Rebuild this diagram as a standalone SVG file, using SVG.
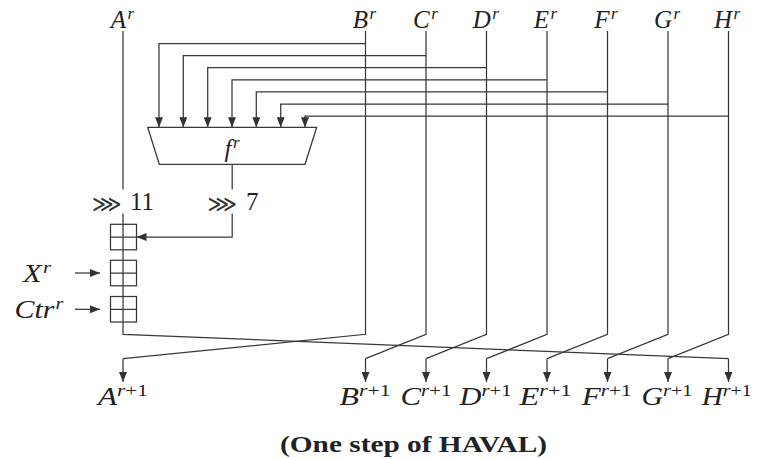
<svg xmlns="http://www.w3.org/2000/svg" width="757" height="459" viewBox="0 0 757 459">
  <defs>
    <marker id="arrow" viewBox="0 0 10 8" refX="10" refY="4" markerWidth="10" markerHeight="8" markerUnits="userSpaceOnUse" orient="auto">
      <path d="M0,0 L10,4 L0,8 Z" fill="#333"/>
    </marker>
    <style>
      .ln { fill: none; stroke: #383838; stroke-width: 1.25; }
      .ar { fill: none; stroke: #383838; stroke-width: 1.25; marker-end: url(#arrow); }
      .box { fill: #fff; stroke: #383838; stroke-width: 1.25; }
      .var { font-family: "Liberation Serif", serif; font-style: italic; font-size: 25px; fill: #222; }
      .sup { font-size: 17px; }
      .up { font-style: normal; }
      .num { font-family: "Liberation Serif", serif; font-size: 25px; fill: #222; }
      .rot { font-family: "DejaVu Sans", sans-serif; font-size: 24px; fill: #333; }
      .cap { font-family: "Liberation Serif", serif; font-weight: bold; font-size: 24px; fill: #222; }
    </style>
  </defs>

  <rect width="757" height="459" fill="#fff"/>

  <!-- connectors -->
  <g id="connectors">
    <!-- register A path through the shifts and the three adders -->
    <path class="ln" d="M123,31 V189.5"/>
    <path class="ln" d="M123,213.5 V334.3 L728.5,358.7"/>
    <path class="ar" d="M728.5,358.7 V382"/>

    <!-- registers B..H: inputs to f and rotation to the next step -->
    <path class="ln" d="M365.5,31 V334.3 L123,358.7"/>
    <path class="ar" d="M123,358.7 V382"/>
    <path class="ln" d="M426,31 V334.3 L365.5,358.7"/>
    <path class="ar" d="M365.5,358.7 V382"/>
    <path class="ln" d="M486.5,31 V334.3 L426,358.7"/>
    <path class="ar" d="M426,358.7 V382"/>
    <path class="ln" d="M547,31 V334.3 L486.5,358.7"/>
    <path class="ar" d="M486.5,358.7 V382"/>
    <path class="ln" d="M607.5,31 V334.3 L547,358.7"/>
    <path class="ar" d="M547,358.7 V382"/>
    <path class="ln" d="M668,31 V334.3 L607.5,358.7"/>
    <path class="ar" d="M607.5,358.7 V382"/>
    <path class="ln" d="M728.5,31 V334.3 L668,358.7"/>
    <path class="ar" d="M668,358.7 V382"/>

    <!-- taps feeding the boolean function -->
    <path class="ar" d="M365.5,43.5 H159 V127.3"/>
    <path class="ar" d="M426,55.6 H183.3 V127.3"/>
    <path class="ar" d="M486.5,67.7 H207.7 V127.3"/>
    <path class="ar" d="M547,79.8 H232 V127.3"/>
    <path class="ar" d="M607.5,91.9 H256.3 V127.3"/>
    <path class="ar" d="M668,104 H280.7 V127.3"/>
    <path class="ar" d="M728.5,116 H305 V127.3"/>

    <!-- output of f, rotated, into the first adder -->
    <path class="ln" d="M232.2,164.3 V189.5"/>
    <path class="ar" d="M232.2,213.5 V237 H136.5"/>

    <!-- message word and constant -->
    <path class="ar" d="M75,273 H100"/>
    <path class="ar" d="M75,309.3 H100"/>
  </g>

  <!-- boolean function f -->
  <g id="f-box">
    <path class="box" d="M147.7,127.3 H316.7 L305,164.3 H159.3 Z"/>
    <text class="var" x="232" y="157" text-anchor="middle">f<tspan class="sup" dx="1.5" dy="-9">r</tspan></text>
  </g>

  <!-- rotations -->
  <g id="rot11">
    <text class="rot" x="92" y="211.5" textLength="29.5" lengthAdjust="spacingAndGlyphs">⋙</text>
    <text class="num" x="130" y="210">11</text>
  </g>
  <g id="rot7">
    <text class="rot" x="207.5" y="211.5" textLength="29.5" lengthAdjust="spacingAndGlyphs">⋙</text>
    <text class="num" x="246" y="210">7</text>
  </g>

  <!-- modular adders -->
  <g id="add1">
    <rect class="box" x="110.5" y="224.3" width="26" height="25.5"/>
    <path class="ln" d="M110.5,237 H136.5 M123,224.3 V249.8"/>
  </g>
  <g id="add2">
    <rect class="box" x="110.5" y="260.3" width="26" height="25.5"/>
    <path class="ln" d="M110.5,273 H136.5 M123,260.3 V285.8"/>
  </g>
  <g id="add3">
    <rect class="box" x="110.5" y="296.5" width="26" height="25.5"/>
    <path class="ln" d="M110.5,309.3 H136.5 M123,296.5 V322"/>
  </g>

  <!-- side inputs -->
  <g id="in-x">
    <text class="var" x="37" y="281.5" text-anchor="middle" textLength="28" lengthAdjust="spacingAndGlyphs">X<tspan class="sup" dx="1" dy="-9">r</tspan></text>
  </g>
  <g id="in-ctr">
    <text class="var" x="39" y="318" text-anchor="middle" textLength="49" lengthAdjust="spacingAndGlyphs">Ctr<tspan class="sup" dx="1" dy="-9">r</tspan></text>
  </g>

  <!-- inputs of step r -->
  <g id="top-labels">
    <text class="var" x="122.5" y="28" text-anchor="middle">A<tspan class="sup" dx="1.5" dy="-9">r</tspan></text>
    <text class="var" x="364.5" y="28" text-anchor="middle">B<tspan class="sup" dx="1.5" dy="-9">r</tspan></text>
    <text class="var" x="425.5" y="28" text-anchor="middle">C<tspan class="sup" dx="1.5" dy="-9">r</tspan></text>
    <text class="var" x="485.8" y="28" text-anchor="middle">D<tspan class="sup" dx="1.5" dy="-9">r</tspan></text>
    <text class="var" x="545.5" y="28" text-anchor="middle">E<tspan class="sup" dx="1.5" dy="-9">r</tspan></text>
    <text class="var" x="606" y="28" text-anchor="middle">F<tspan class="sup" dx="1.5" dy="-9">r</tspan></text>
    <text class="var" x="667" y="28" text-anchor="middle">G<tspan class="sup" dx="1.5" dy="-9">r</tspan></text>
    <text class="var" x="727" y="28" text-anchor="middle">H<tspan class="sup" dx="1.5" dy="-9">r</tspan></text>
  </g>

  <!-- outputs of step r -->
  <g id="bottom-labels">
    <text class="var" x="123" y="405" text-anchor="middle" textLength="50" lengthAdjust="spacingAndGlyphs">A<tspan class="sup" dy="-9">r</tspan><tspan class="sup up">+1</tspan></text>
    <text class="var" x="365" y="405" text-anchor="middle" textLength="51" lengthAdjust="spacingAndGlyphs">B<tspan class="sup" dy="-9">r</tspan><tspan class="sup up">+1</tspan></text>
    <text class="var" x="426" y="405" text-anchor="middle" textLength="51" lengthAdjust="spacingAndGlyphs">C<tspan class="sup" dy="-9">r</tspan><tspan class="sup up">+1</tspan></text>
    <text class="var" x="485.5" y="405" text-anchor="middle" textLength="52" lengthAdjust="spacingAndGlyphs">D<tspan class="sup" dy="-9">r</tspan><tspan class="sup up">+1</tspan></text>
    <text class="var" x="545.5" y="405" text-anchor="middle" textLength="52" lengthAdjust="spacingAndGlyphs">E<tspan class="sup" dy="-9">r</tspan><tspan class="sup up">+1</tspan></text>
    <text class="var" x="606.7" y="405" text-anchor="middle" textLength="50" lengthAdjust="spacingAndGlyphs">F<tspan class="sup" dy="-9">r</tspan><tspan class="sup up">+1</tspan></text>
    <text class="var" x="667" y="405" text-anchor="middle" textLength="51" lengthAdjust="spacingAndGlyphs">G<tspan class="sup" dy="-9">r</tspan><tspan class="sup up">+1</tspan></text>
    <text class="var" x="726.7" y="405" text-anchor="middle" textLength="50" lengthAdjust="spacingAndGlyphs">H<tspan class="sup" dy="-9">r</tspan><tspan class="sup up">+1</tspan></text>
  </g>

  <text class="cap" x="280" y="451.5" textLength="267" lengthAdjust="spacingAndGlyphs">(One step of HAVAL)</text>
</svg>
